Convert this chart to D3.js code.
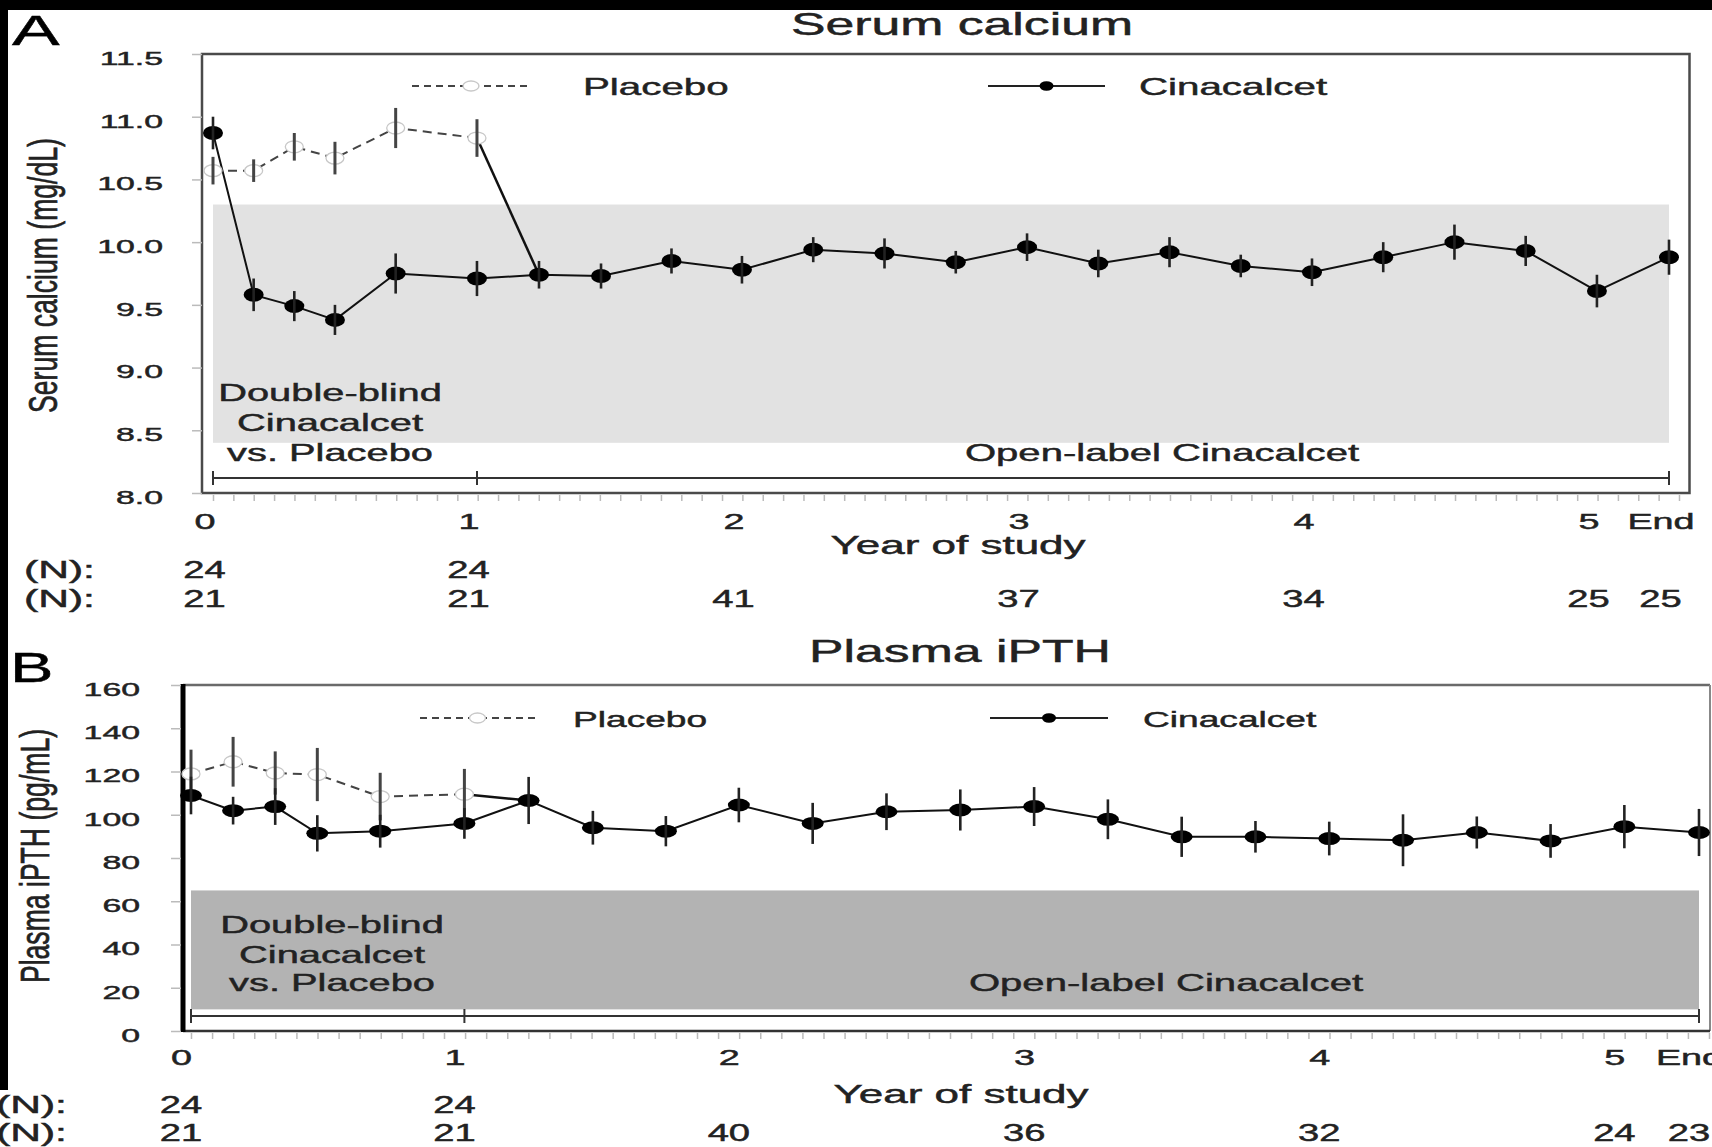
<!DOCTYPE html>
<html><head><meta charset="utf-8">
<script src="https://cdn.jsdelivr.net/npm/d3@7"></script>
<style>html,body{margin:0;padding:0;background:#fff;overflow:hidden}svg{display:block;background:#fff}</style>
</head><body><svg id="chart" width="1712" height="1147"></svg>
<script>
// ---------------- DATA ----------------
const visitYears = [0, 0.154, 0.308, 0.462, 0.692, 1.0, 1.25, 1.5, 1.75, 2.0, 2.25, 2.5, 2.75, 3.0, 3.25, 3.5, 3.75, 4.0, 4.25, 4.5, 4.75, 5.0, 5.25];
const placeboYears = [0, 0.154, 0.308, 0.462, 0.692, 1.0];

const caCinacalcet   = [10.87, 9.58, 9.49, 9.38, 9.75, 9.71, 9.74, 9.73, 9.85, 9.78, 9.94, 9.91, 9.84, 9.96, 9.83, 9.92, 9.81, 9.76, 9.88, 10.00, 9.93, 9.61, 9.88];
const caCinacalcetSE = [0.13, 0.13, 0.12, 0.12, 0.16, 0.14, 0.11, 0.10, 0.10, 0.11, 0.10, 0.12, 0.09, 0.11, 0.11, 0.12, 0.09, 0.11, 0.12, 0.14, 0.12, 0.13, 0.14];
const caPlacebo      = [10.57, 10.57, 10.76, 10.67, 10.91, 10.83];
const caPlaceboSE    = [0.11, 0.09, 0.11, 0.13, 0.16, 0.15];

const pthCinacalcet   = [108.9, 101.9, 103.8, 91.4, 92.4, 96.0, 106.6, 94.0, 92.4, 104.5, 96.0, 101.4, 102.2, 103.8, 97.9, 89.8, 89.8, 89.0, 88.2, 91.8, 87.9, 94.5, 91.8];
const pthCinacalcetSE = [8.7, 6.4, 8.5, 8.4, 7.6, 7.1, 10.9, 7.8, 7.0, 8.0, 9.5, 8.5, 9.5, 9.0, 9.2, 9.3, 7.3, 7.8, 12.0, 7.4, 7.8, 10.0, 10.9];
const pthPlacebo      = [118.9, 124.5, 119.3, 118.6, 108.4, 109.5];
const pthPlaceboSE    = [11.2, 11.5, 10.0, 12.3, 11.0, 11.7];

const caNormalRange  = [8.4, 10.3];
const pthNormalRange = [10, 65];

const yearTicks      = [0, 1, 2, 3, 4, 5, 5.25];
const yearTickLabels = ["0", "1", "2", "3", "4", "5", "End"];
const caTicks  = [8.0, 8.5, 9.0, 9.5, 10.0, 10.5, 11.0, 11.5];
const pthTicks = [0, 20, 40, 60, 80, 100, 120, 140, 160];

const nRow1Years = [0, 1];
const caN1  = [24, 24];
const caN2  = [21, 21, 41, 37, 34, 25, 25];
const pthN1 = [24, 24];
const pthN2 = [21, 21, 40, 36, 32, 24, 23];

// x-axis breakpoints of the (non-uniform) published time axis
const xBreaks    = [0, 1, 1.5, 2, 3, 4, 5, 5.25];
const xBreakFrac = [0, 0.1813, 0.2665, 0.3633, 0.5591, 0.7548, 0.9505, 1];

// ---------------- DRAW ----------------
const FONT = "'Liberation Sans', Arial, Helvetica, sans-serif";
const TXT = "#222";
const svg = d3.select("#chart");

svg.append("rect").attr("x",0).attr("y",0).attr("width",1712).attr("height",1147).attr("fill","#fff");

function heavy(sel, fill) {
  return sel.attr("fill", fill || TXT).attr("stroke", fill || TXT).attr("stroke-width", 0.45);
}

function sText(g, str, x, y, fs, sx, anchor, fill) {
  return heavy(g.append("text")
    .attr("transform", `translate(${x},${y}) scale(${sx},1)`)
    .attr("text-anchor", anchor || "start")
    .style("font-family", FONT)
    .style("font-size", fs + "px")
    .text(str), fill);
}

function drawPanel(P) {
  const g = svg.append("g");
  const F = P.frame;
  const x = d3.scaleLinear().domain(xBreaks).range(xBreakFrac.map(f => P.xr[0] + f * (P.xr[1] - P.xr[0])));
  const y = d3.scaleLinear().domain(P.yDomain).range([F.b, F.t]);
  const tEnd = yearTicks[yearTicks.length - 1];

  // normal-range band
  g.append("rect")
    .attr("x", x(0)).attr("width", x(tEnd) - x(0))
    .attr("y", y(P.band[1])).attr("height", y(P.band[0]) - y(P.band[1]))
    .attr("fill", P.bandFill);

  // phase bracket
  const by = F.b - 15;
  g.append("line").attr("x1", x(0)).attr("x2", x(tEnd)).attr("y1", by).attr("y2", by)
    .attr("stroke", "#333").attr("stroke-width", 2);
  [0, 1, tEnd].forEach(t => g.append("line").attr("x1", x(t)).attr("x2", x(t))
    .attr("y1", by - 7).attr("y2", by + 7).attr("stroke", "#333").attr("stroke-width", 2));

  // frame
  if (P.boxFrame) {
    g.append("rect").attr("x", F.l).attr("y", F.t).attr("width", F.r - F.l).attr("height", F.b - F.t)
      .attr("fill", "none").attr("stroke", "#4a4a4a").attr("stroke-width", 2.5);
  } else {
    g.append("line").attr("x1", F.l).attr("x2", F.r).attr("y1", F.t).attr("y2", F.t).attr("stroke", "#6a6a6a").attr("stroke-width", 2.5);
    g.append("line").attr("x1", F.r).attr("x2", F.r).attr("y1", F.t).attr("y2", F.b).attr("stroke", "#888").attr("stroke-width", 2);
    g.append("line").attr("x1", F.l).attr("x2", F.r).attr("y1", F.b).attr("y2", F.b).attr("stroke", "#333").attr("stroke-width", 2.5);
    g.append("line").attr("x1", F.l).attr("x2", F.l).attr("y1", F.t - 1).attr("y2", F.b + 1).attr("stroke", "#000").attr("stroke-width", 5);
  }

  // y axis
  const ya = g.append("g").attr("transform", `translate(${P.yAxisX},0)`)
    .call(d3.axisLeft(y).tickValues(P.yTicks).tickFormat(P.yFmt).tickSize(10));
  ya.select(".domain").remove();
  ya.selectAll(".tick line").attr("stroke", "#bbb").attr("stroke-width", 1.5);
  heavy(ya.selectAll(".tick text").attr("x", null).attr("dy", null)
    .attr("transform", `translate(${P.yLabelRight - P.yAxisX},10.3) scale(1.78,1)`)
    .style("font-family", FONT).style("font-size", "19px"));

  // minor ticks under the axis
  const ms = d3.scaleLinear().domain([0, 72]).range([x(0), x(tEnd) + 10]);
  const ma = g.append("g").attr("transform", `translate(0,${F.b + 2})`)
    .call(d3.axisBottom(ms).tickValues(d3.range(73)).tickFormat("").tickSize(6));
  ma.select(".domain").remove();
  ma.selectAll(".tick line").attr("stroke", "#bbb").attr("stroke-width", 1.5);

  // x axis labels
  const xa = g.append("g").attr("transform", `translate(0,${F.b})`)
    .call(d3.axisBottom(x).tickValues(yearTicks).tickFormat((d, i) => yearTickLabels[i]).tickSize(0));
  xa.select(".domain").remove();
  xa.selectAll(".tick line").remove();
  heavy(xa.selectAll(".tick text").attr("y", null).attr("dy", null)
    .attr("transform", `translate(${P.xLabelDx},${P.xLabelBase - F.b}) scale(1.68,1)`)
    .style("font-family", FONT).style("font-size", "22.5px"));

  sText(g, "Year of study", P.xTitle[0], P.xTitle[1], 25, 1.76, "middle");

  // N rows
  const nTimes = [nRow1Years, yearTicks];
  P.nRows.forEach((row, r) => {
    sText(g, "(N):", P.nLabelX, P.nBase[r], 23, 1.85, "start");
    row.forEach((n, i) => sText(g, n, x(nTimes[r][i]) + P.xLabelDx, P.nBase[r], 23, 1.66, "middle"));
  });

  // phase texts
  ["Double-blind", "Cinacalcet", "vs. Placebo"].forEach((s, i) =>
    sText(g, s, P.dbX, P.dbBase[i], 24, 1.66, "middle"));
  sText(g, "Open-label Cinacalcet", P.olX, P.olBase, 24, 1.67, "middle");

  // series
  const line = d3.line().x(d => x(d[0])).y(d => y(d[1]));
  const plaPts = placeboYears.map((t, i) => [t, P.pla[i], P.plaErr[i]]);
  const cinPts = visitYears.map((t, i) => [t, P.cin[i], P.cinErr[i]]);

  g.append("path").attr("d", line(plaPts)).attr("fill", "none")
    .attr("stroke", "#444").attr("stroke-width", 2).attr("stroke-dasharray", "9,6");
  // placebo group switching to open-label cinacalcet
  g.append("path").attr("d", line([plaPts[plaPts.length - 1], cinPts[6]])).attr("fill", "none")
    .attr("stroke", "#111").attr("stroke-width", 2.5);
  g.append("path").attr("d", line(cinPts)).attr("fill", "none")
    .attr("stroke", "#111").attr("stroke-width", 2);

  g.selectAll(".pm").data(plaPts).enter().append("ellipse")
    .attr("cx", d => x(d[0])).attr("cy", d => y(d[1])).attr("rx", 9).attr("ry", 6)
    .attr("fill", "#fff").attr("stroke", "#c8c8c8").attr("stroke-width", 1.3);
  g.selectAll(".pe").data(plaPts).enter().append("line")
    .attr("x1", d => x(d[0])).attr("x2", d => x(d[0]))
    .attr("y1", d => y(d[1] - d[2])).attr("y2", d => y(d[1] + d[2]))
    .attr("stroke", "#444").attr("stroke-width", 3);

  g.selectAll(".cm").data(cinPts).enter().append("ellipse")
    .attr("cx", d => x(d[0])).attr("cy", d => y(d[1])).attr("rx", P.mrx).attr("ry", P.mry)
    .attr("fill", "#000");
  g.selectAll(".ce").data(cinPts).enter().append("line")
    .attr("x1", d => x(d[0])).attr("x2", d => x(d[0]))
    .attr("y1", d => y(d[1] - d[2])).attr("y2", d => y(d[1] + d[2]))
    .attr("stroke", "#222").attr("stroke-width", 2.6);

  // legend
  const L = P.legend;
  g.append("line").attr("x1", L.pla[0]).attr("x2", L.pla[1]).attr("y1", L.y).attr("y2", L.y)
    .attr("stroke", "#444").attr("stroke-width", 2).attr("stroke-dasharray", "7,5");
  g.append("ellipse").attr("cx", (L.pla[0] + L.pla[1]) / 2).attr("cy", L.y).attr("rx", 8).attr("ry", 5)
    .attr("fill", "#fff").attr("stroke", "#c8c8c8").attr("stroke-width", 1.3);
  sText(g, "Placebo", L.plaText, L.y + 8.5, L.fs, L.sx, "start");
  g.append("line").attr("x1", L.cin[0]).attr("x2", L.cin[1]).attr("y1", L.y).attr("y2", L.y)
    .attr("stroke", "#222").attr("stroke-width", 2.2);
  g.append("ellipse").attr("cx", (L.cin[0] + L.cin[1]) / 2).attr("cy", L.y).attr("rx", 7).attr("ry", 4.8)
    .attr("fill", "#000");
  sText(g, "Cinacalcet", L.cinText, L.y + 8.5, L.fs, L.sx, "start");

  // titles
  sText(g, P.title, P.titlePos[0], P.titlePos[1], 31, 1.67, "middle");
  sText(g, P.letter, P.letterPos[0], P.letterPos[1], 42, P.letterSx, "start", "#000");
  heavy(g.append("text")
    .attr("transform", `translate(${P.yTitle[1]},${P.yTitle[2]}) scale(1.55,1) rotate(-90)`)
    .attr("text-anchor", "middle").style("font-family", FONT).style("font-size", "26.6px")
    .text(P.yTitle[0]));
}

drawPanel({
  frame: {l: 202, t: 54, r: 1689.5, b: 493}, boxFrame: true,
  xr: [213, 1669], yDomain: [8, 11.5], yTicks: caTicks, yFmt: d3.format(".1f"),
  yAxisX: 202, yLabelRight: 163,
  band: caNormalRange, bandFill: "#e2e2e2",
  cin: caCinacalcet, cinErr: caCinacalcetSE, pla: caPlacebo, plaErr: caPlaceboSE,
  mrx: 10, mry: 7,
  xLabelDx: -8.5, xLabelBase: 529, xTitle: [958, 554],
  nRows: [caN1, caN2], nBase: [578, 607], nLabelX: 24,
  dbX: 330, dbBase: [400.7, 430.7, 460.7], olX: 1162, olBase: 461,
  legend: {y: 86, pla: [412, 530], plaText: 583, cin: [988, 1105], cinText: 1139, fs: 24, sx: 1.68},
  title: "Serum calcium", titlePos: [962, 35],
  letter: "A", letterPos: [12, 45], letterSx: 1.7,
  yTitle: ["Serum calcium (mg/dL)", 57, 275.5]
});

drawPanel({
  frame: {l: 183, t: 685, r: 1710, b: 1031}, boxFrame: false,
  xr: [191, 1699], yDomain: [0, 160], yTicks: pthTicks, yFmt: d3.format("d"),
  yAxisX: 181, yLabelRight: 140,
  band: pthNormalRange, bandFill: "#b3b3b3",
  cin: pthCinacalcet, cinErr: pthCinacalcetSE, pla: pthPlacebo, plaErr: pthPlaceboSE,
  mrx: 11, mry: 6.5,
  xLabelDx: -10, xLabelBase: 1065, xTitle: [961, 1103],
  nRows: [pthN1, pthN2], nBase: [1113, 1141], nLabelX: -4,
  dbX: 332, dbBase: [932.6, 963, 991.4], olX: 1166, olBase: 991,
  legend: {y: 718, pla: [420, 535], plaText: 573, cin: [990, 1108], cinText: 1143, fs: 22.5, sx: 1.65},
  title: "Plasma iPTH", titlePos: [960, 662],
  letter: "B", letterPos: [10, 682], letterSx: 1.55,
  yTitle: ["Plasma iPTH (pg/mL)", 48.6, 856]
});

// black borders of the scanned figure
svg.append("rect").attr("x", 0).attr("y", 0).attr("width", 1712).attr("height", 10).attr("fill", "#000");
svg.append("rect").attr("x", 0).attr("y", 0).attr("width", 8).attr("height", 1090).attr("fill", "#000");
</script>
</body></html>
